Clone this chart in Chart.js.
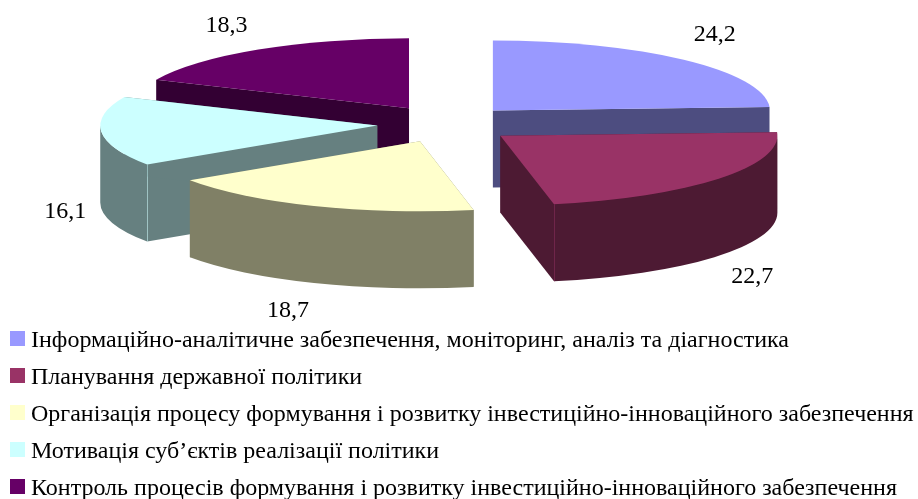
<!DOCTYPE html>
<html>
<head>
<meta charset="utf-8">
<title>Pie</title>
<script src="https://cdn.jsdelivr.net/npm/chart.js@4"></script>
<style>
  body { margin: 0; background: #fff; }
  canvas { display: block; }
</style>
</head>
<body>
<canvas id="pie3d" width="918" height="499"></canvas>
<script>
const categories = [
  'Інформаційно-аналітичне забезпечення, моніторинг, аналіз та діагностика',
  'Планування державної політики',
  'Організація процесу формування і розвитку інвестиційно-інноваційного забезпечення',
  'Мотивація суб’єктів реалізації політики',
  'Контроль процесів формування і розвитку інвестиційно-інноваційного забезпечення'
];
const values = [24.2, 22.7, 18.7, 16.1, 18.3];
const topColors = ['#9999FF', '#993366', '#FFFFCC', '#CCFFFF', '#660066'];
const sideColors = ['#4D4D80', '#4D1A33', '#808066', '#668080', '#330033'];
const sliceOffsets = [68, 69, 68, 69, 68];

// back to front, pie arcs have to overlap like in the picture
const drawOrder = [4, 0, 3, 2, 1];
const tilt = 0.2527;
const offsetTilt = 0.275;
const depth = 77;
const pieShiftX = 13;
const pieShiftY = 34;
const labelNudge = [[31, -25.5], [33.5, 98], [-26, 104.5], [-36, 80.5], [-32, -23.5]];
const legendSquare = 15;

function sliceCenter(el) {
  const half = (el.startAngle + el.endAngle) / 2;
  const off = el.options.offset;
  return {
    half,
    x: el.x - pieShiftX + Math.cos(half) * off,
    y: el.y - pieShiftY + Math.sin(half) * off * offsetTilt
  };
}

function drawSlice(ctx, el, i) {
  const r = el.outerRadius;
  const { x, y } = sliceCenter(el);
  const a0 = el.startAngle, a1 = el.endAngle;
  const px = a => x + Math.cos(a) * r;
  const py = a => y + Math.sin(a) * r * tilt;

  ctx.fillStyle = sideColors[i];
  // cut faces
  [a0, a1].forEach(a => {
    ctx.beginPath();
    ctx.moveTo(x, y);
    ctx.lineTo(px(a), py(a));
    ctx.lineTo(px(a), py(a) + depth);
    ctx.lineTo(x, y + depth);
    ctx.closePath();
    ctx.fill();
  });
  // outer wall, only the front half shows
  const from = Math.max(a0, 0), to = Math.min(a1, Math.PI);
  if (to > from) {
    ctx.beginPath();
    ctx.ellipse(x, y, r, r * tilt, 0, from, to);
    ctx.ellipse(x, y + depth, r, r * tilt, 0, to, from, true);
    ctx.closePath();
    ctx.fill();
  }
  // light seam where a cut face meets the wall
  ctx.strokeStyle = topColors[i];
  ctx.globalAlpha = 0.45;
  ctx.lineWidth = 1;
  [a0, a1].forEach(a => {
    const front = a > 0 && a < Math.PI;
    const seam = a === a1 ? Math.cos(a) > 0 : Math.cos(a) < 0;
    if (front && seam) {
      ctx.beginPath();
      ctx.moveTo(Math.round(px(a)) + 0.5, py(a));
      ctx.lineTo(Math.round(px(a)) + 0.5, py(a) + depth);
      ctx.stroke();
    }
  });
  ctx.globalAlpha = 1;
  // top
  ctx.fillStyle = topColors[i];
  ctx.beginPath();
  ctx.moveTo(x, y);
  ctx.ellipse(x, y, r, r * tilt, 0, a0, a1);
  ctx.closePath();
  ctx.fill();
}

const pie3d = {
  id: 'pie3d',
  beforeDatasetDraw(chart, args) {
    const ctx = chart.ctx;
    const arcs = args.meta.data;
    ctx.save();
    drawOrder.forEach(i => drawSlice(ctx, arcs[i], i));
    ctx.font = '24px "Liberation Serif"';
    ctx.fillStyle = '#000';
    ctx.textAlign = 'center';
    ctx.textBaseline = 'middle';
    arcs.forEach((el, i) => {
      const c = sliceCenter(el);
      const lx = c.x + Math.cos(c.half) * el.outerRadius + labelNudge[i][0];
      const ly = c.y + Math.sin(c.half) * el.outerRadius * tilt + labelNudge[i][1];
      ctx.fillText(String(values[i]).replace('.', ','), lx, ly);
    });
    ctx.restore();
    return false;
  },
  // legend text sits closer to the square than chart.js allows, so the real box is painted here
  afterDraw(chart) {
    const ctx = chart.ctx;
    chart.legend.legendHitBoxes.forEach((hit, i) => {
      ctx.fillStyle = topColors[i];
      ctx.fillRect(hit.left, Math.round(hit.top + (hit.height - legendSquare) / 2) - 3, legendSquare, legendSquare);
    });
  }
};

new Chart(document.getElementById('pie3d'), {
  type: 'pie',
  data: {
    labels: categories,
    datasets: [{
      data: values,
      backgroundColor: topColors,
      borderWidth: 0,
      offset: sliceOffsets
    }]
  },
  options: {
    responsive: false,
    animation: false,
    radius: 277,
    layout: { padding: { left: -3, right: 0, top: 0, bottom: -12 } },
    plugins: {
      tooltip: { enabled: false },
      legend: {
        position: 'bottom',
        align: 'start',
        labels: {
          boxWidth: 9,
          boxHeight: 9,
          padding: 13,
          color: '#000',
          font: { family: '"Liberation Serif"', size: 24 }
        }
      }
    }
  },
  plugins: [pie3d]
});
</script>
</body>
</html>
